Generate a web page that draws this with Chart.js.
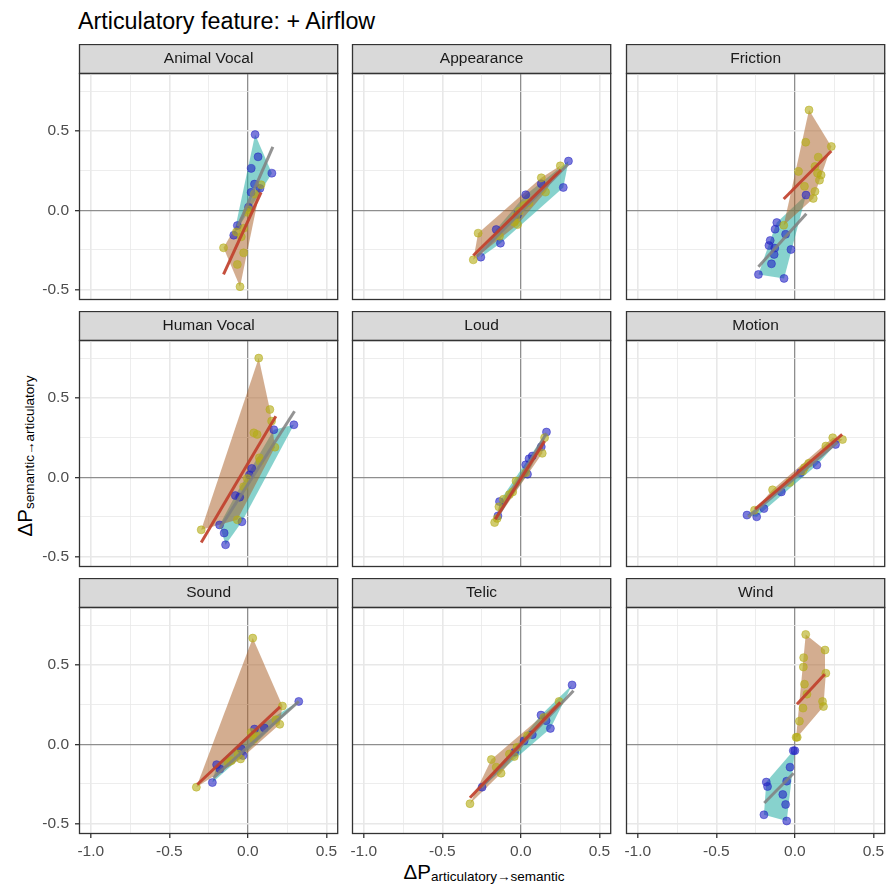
<!DOCTYPE html>
<html>
<head>
<meta charset="utf-8">
<script src="https://cdn.jsdelivr.net/npm/chart.js@4.4.1/dist/chart.umd.min.js"></script>
<style>
  body { margin: 0; background: #fff; font-family: 'Liberation Sans', Arial, Helvetica, sans-serif; }
  #wrap { position: relative; width: 888px; height: 886px; overflow: hidden; background: #fff; }
  #wrap canvas { position: absolute; }
  #title { position: absolute; left: 78px; top: 10px; font-size: 23.3px; line-height: 23px; color: #000; white-space: nowrap; }
  .axlab { position: absolute; width: 400px; height: 22px; line-height: 22px; text-align: center; white-space: nowrap; color: #000; font-size: 20.5px; }
  .axlab .sub { font-size: 13.5px; position: relative; top: 2px; }
  #xlab { left: 284px; top: 861px; }
  #ylab { left: -175px; top: 445px; transform: rotate(-90deg); }
</style>
</head>
<body>
<div id="wrap">
  <div id="title">Articulatory feature: + Airflow</div>
  <div id="xlab" class="axlab">ΔP<span class="sub">articulatory→semantic</span></div>
  <div id="ylab" class="axlab">ΔP<span class="sub">semantic→articulatory</span></div>
</div>
<script>
// facet names, in reading order
const facetNames = ['Animal Vocal', 'Appearance', 'Friction', 'Human Vocal', 'Loud', 'Motion', 'Sound', 'Telic', 'Wind'];

// axis ticks with a label (the others get a minor grid line only)
const xMajorTicks = [-1.0, -0.5, 0.0, 0.5];
const yMajorTicks = [-0.5, 0.0, 0.5];

// points [x, y] per facet: blue group and yellow group
// fitted lines as [x0, y0, x1, y1]
const animalVocalBlue = [[0.046, 0.477], [0.065, 0.337], [0.153, 0.234], [0.021, 0.264], [0.042, 0.165], [0.021, 0.113], [0.077, 0.138], [0.004, 0.02], [-0.067, -0.096], [-0.09, -0.157]];
const animalVocalYellow = [[-0.155, -0.236], [-0.05, -0.481], [-0.067, -0.341], [-0.027, -0.268], [-0.027, -0.113], [-0.073, -0.136], [-0.042, -0.167], [-0.004, -0.013], [0.004, 0.004], [0.042, 0.103], [0.084, 0.161]];
const animalVocalRed = [-0.155, -0.404, 0.084, 0.113];
const animalVocalGrey = [-0.063, -0.10, 0.159, 0.40];

const appearanceBlue = [[0.303, 0.310], [0.270, 0.144], [0.031, 0.098], [0.130, 0.167], [-0.021, -0.027], [-0.157, -0.121], [-0.130, -0.207], [-0.255, -0.295]];
const appearanceYellow = [[-0.303, -0.312], [-0.272, -0.144], [0.130, 0.205], [0.157, 0.115], [0.251, 0.280], [0.052, 0.046], [0.021, 0.031], [-0.010, -0.006], [-0.031, -0.038], [-0.042, -0.075], [-0.021, -0.09], [-0.136, -0.163]];
const appearanceRed = [-0.303, -0.285, 0.255, 0.255];
const appearanceGrey = [-0.28, -0.29, 0.30, 0.29];

const frictionBlue = [[0.071, 0.096], [-0.115, -0.077], [-0.126, -0.119], [-0.059, -0.151], [-0.157, -0.190], [-0.165, -0.222], [-0.128, -0.238], [-0.132, -0.278], [-0.025, -0.247], [-0.149, -0.337], [-0.232, -0.404], [-0.069, -0.429]];
const frictionYellow = [[0.090, 0.632], [0.069, 0.429], [0.232, 0.402], [0.149, 0.335], [0.128, 0.276], [0.023, 0.245], [0.144, 0.234], [0.167, 0.222], [0.157, 0.190], [0.061, 0.151], [0.128, 0.119], [0.117, 0.075], [-0.071, -0.094]];
const frictionRed = [-0.071, 0.071, 0.232, 0.374];
const frictionGrey = [-0.232, -0.356, 0.073, -0.021];

const humanVocalBlue = [[0.293, 0.331], [0.165, 0.30], [0.025, 0.056], [0.010, 0.015], [-0.080, -0.115], [-0.052, -0.125], [-0.038, -0.280], [-0.18, -0.30], [-0.151, -0.351], [-0.142, -0.425]];
const humanVocalYellow = [[0.069, 0.751], [0.140, 0.427], [0.151, 0.354], [0.038, 0.280], [0.059, 0.270], [0.172, 0.190], [0.073, 0.123], [0.077, 0.103], [-0.004, -0.008], [-0.027, -0.059], [-0.067, -0.268], [-0.297, -0.331]];
const humanVocalRed = [-0.297, -0.41, 0.178, 0.385];
const humanVocalGrey = [-0.178, -0.32, 0.297, 0.416];

const loudBlue = [[0.163, 0.285], [0.130, 0.192], [0.073, 0.134], [0.052, 0.117], [0.031, 0.079], [0.042, 0.019], [-0.136, -0.153], [-0.146, -0.243]];
const loudYellow = [[0.151, 0.249], [0.136, 0.151], [0.031, 0.029], [-0.031, -0.023], [-0.052, -0.092], [-0.073, -0.109], [-0.111, -0.138], [-0.140, -0.186], [-0.151, -0.259], [-0.167, -0.285]];
const loudRed = [-0.163, -0.264, 0.151, 0.228];
const loudGrey = [-0.146, -0.243, 0.163, 0.277];

const motionBlue = [[-0.305, -0.238], [-0.243, -0.249], [-0.197, -0.197], [-0.086, -0.092], [0.036, 0.029], [0.140, 0.077], [0.259, 0.207]];
const motionYellow = [[-0.257, -0.207], [-0.142, -0.079], [-0.033, -0.033], [0.05, 0.04], [0.061, 0.061], [0.088, 0.088], [0.197, 0.197], [0.241, 0.249], [0.303, 0.238]];
const motionRed = [-0.253, -0.201, 0.301, 0.27];
const motionGrey = [-0.297, -0.25, 0.27, 0.22];

const soundBlue = [[0.324, 0.270], [-0.226, -0.241], [-0.178, -0.155], [-0.199, -0.128], [-0.031, -0.071], [0.042, 0.096], [0.105, 0.103], [-0.042, -0.029]];
const soundYellow = [[0.031, 0.669], [-0.328, -0.270], [0.220, 0.241], [0.203, 0.126], [0.178, 0.155], [0.052, 0.054], [0.038, 0.033], [0.021, 0.075], [-0.063, -0.061], [-0.046, -0.092], [-0.105, -0.103], [-0.126, -0.113]];
const soundRed = [-0.322, -0.253, 0.205, 0.236];
const soundGrey = [-0.22, -0.211, 0.324, 0.270];

const telicBlue = [[0.326, 0.374], [0.128, 0.184], [0.161, 0.149], [0.188, 0.100], [0.073, 0.061], [0.021, 0.023], [-0.247, -0.270], [-0.04, -0.05]];
const telicYellow = [[-0.324, -0.374], [-0.188, -0.096], [-0.157, -0.144], [-0.126, -0.182], [-0.073, -0.061], [-0.025, -0.019], [0.042, 0.054], [0.146, 0.169], [0.243, 0.270], [-0.042, -0.077]];
const telicRed = [-0.324, -0.337, 0.251, 0.264];
const telicGrey = [-0.251, -0.270, 0.335, 0.337];

const windBlue = [[-0.010, -0.040], [0.0, -0.040], [-0.031, -0.144], [-0.052, -0.232], [-0.182, -0.238], [-0.174, -0.266], [-0.077, -0.316], [-0.059, -0.379], [-0.197, -0.444], [-0.052, -0.483]];
const windYellow = [[0.069, 0.692], [0.192, 0.594], [0.056, 0.546], [0.054, 0.487], [0.197, 0.448], [0.061, 0.379], [0.077, 0.316], [0.176, 0.270], [0.182, 0.238], [0.052, 0.228], [0.029, 0.146], [0.008, 0.044], [0.015, 0.044]];
const windRed = [0.013, 0.253, 0.190, 0.441];
const windGrey = [-0.195, -0.370, -0.008, -0.182];

const facets = [
  [animalVocalBlue, animalVocalYellow, animalVocalRed, animalVocalGrey],
  [appearanceBlue, appearanceYellow, appearanceRed, appearanceGrey],
  [frictionBlue, frictionYellow, frictionRed, frictionGrey],
  [humanVocalBlue, humanVocalYellow, humanVocalRed, humanVocalGrey],
  [loudBlue, loudYellow, loudRed, loudGrey],
  [motionBlue, motionYellow, motionRed, motionGrey],
  [soundBlue, soundYellow, soundRed, soundGrey],
  [telicBlue, telicYellow, telicRed, telicGrey],
  [windBlue, windYellow, windRed, windGrey],
];

Chart.defaults.font.family = "'Liberation Sans', Arial, Helvetica, sans-serif";

const BLUE = 'rgba(35, 35, 195, 0.6)';
const YELLOW = 'rgba(180, 172, 25, 0.62)';
const TEAL = 'rgba(37, 173, 164, 0.55)';
const BROWN = 'rgba(170, 97, 42, 0.52)';
const RED = 'rgba(192, 64, 44, 0.92)';
const GREY = 'rgba(128, 128, 128, 0.85)';

// panel geometry (px)
const colLefts = [79, 352, 626];
const rowTops = [44, 311, 578];
const AXW = 60, AXH = 32, STRIP = 29, PW = 262, PH = 227, PADR = 2;

function isIn(v, list) {
  return list.some(t => Math.abs(t - v) < 1e-6);
}

// convex hull (monotone chain), like stat_chull
function convexHull(points) {
  const pts = points.slice().sort((a, b) => a[0] - b[0] || a[1] - b[1]);
  const cross = (o, a, b) => (a[0] - o[0]) * (b[1] - o[1]) - (a[1] - o[1]) * (b[0] - o[0]);
  const lower = [];
  for (const p of pts) {
    while (lower.length >= 2 && cross(lower[lower.length - 2], lower[lower.length - 1], p) <= 0) lower.pop();
    lower.push(p);
  }
  const upper = [];
  for (let i = pts.length - 1; i >= 0; i--) {
    const p = pts[i];
    while (upper.length >= 2 && cross(upper[upper.length - 2], upper[upper.length - 1], p) <= 0) upper.pop();
    upper.push(p);
  }
  upper.pop();
  lower.pop();
  return lower.concat(upper);
}

const toXY = p => ({ x: p[0], y: p[1] });
const segXY = s => [{ x: s[0], y: s[1] }, { x: s[2], y: s[3] }];

// grey strip behind the facet title and dark frame round the panel
const stripAndFrame = {
  id: 'stripAndFrame',
  beforeDraw(chart) {
    const t = chart.titleBlock;
    if (!t) return;
    const ctx = chart.ctx;
    ctx.save();
    ctx.fillStyle = '#d9d9d9';
    ctx.fillRect(t.left, t.top, t.right - t.left, t.bottom - t.top);
    ctx.strokeStyle = '#333333';
    ctx.lineWidth = 1.3;
    ctx.strokeRect(t.left + 0.5, t.top + 0.5, t.right - t.left - 1, t.bottom - t.top);
    ctx.restore();
  },
  afterDraw(chart) {
    const a = chart.chartArea;
    const ctx = chart.ctx;
    ctx.save();
    ctx.strokeStyle = '#333333';
    ctx.lineWidth = 1.3;
    ctx.strokeRect(a.left + 0.5, a.top + 0.5, a.right - a.left - 1, a.bottom - a.top - 1);
    ctx.restore();
  }
};

function gridColor(c) {
  const v = c.tick ? c.tick.value : NaN;
  return Math.abs(v) < 1e-6 ? '#8e8e8e' : '#e8e8e8';
}

function makeScale(min, max, majors, showLabels, axis) {
  return {
    type: 'linear',
    min: min,
    max: max,
    afterFit: s => { if (axis === 'x') s.height = AXH; else s.width = AXW; },
    border: { display: false },
    grid: {
      color: gridColor,
      lineWidth: c => {
        const v = c.tick ? c.tick.value : 0;
        if (Math.abs(v) < 1e-6) return 1.3;
        return isIn(v, majors) ? 1.6 : 0.8;
      },
      drawTicks: showLabels,
      tickLength: 4,
      tickWidth: 1.3,
      tickColor: c => (c.tick && isIn(c.tick.value, majors)) ? '#333333' : 'rgba(0,0,0,0)'
    },
    ticks: {
      display: showLabels,
      stepSize: 0.25,
      includeBounds: false,
      autoSkip: false,
      maxRotation: 0,
      minRotation: 0,
      padding: axis === 'x' ? 4 : 6,
      color: '#4d4d4d',
      font: { size: 15.5 },
      callback: v => isIn(v, majors) ? (Math.round(v * 10) / 10).toFixed(1) : ''
    }
  };
}

const wrap = document.getElementById('wrap');

facets.forEach((f, i) => {
  const [blue, yellow, redLine, greyLine] = f;
  const col = i % 3;
  const row = Math.floor(i / 3);
  const cv = document.createElement('canvas');
  cv.width = AXW + PW + PADR;
  cv.height = STRIP + PH + AXH;
  cv.style.left = (colLefts[col] - AXW) + 'px';
  cv.style.top = rowTops[row] + 'px';
  wrap.appendChild(cv);

  new Chart(cv, {
    type: 'scatter',
    data: {
      datasets: [
        { type: 'line', data: convexHull(blue).map(toXY), fill: 'shape', backgroundColor: TEAL,
          borderColor: 'rgba(0,0,0,0)', borderWidth: 0, pointRadius: 0, tension: 0, order: 6 },
        { type: 'line', data: convexHull(yellow).map(toXY), fill: 'shape', backgroundColor: BROWN,
          borderColor: 'rgba(0,0,0,0)', borderWidth: 0, pointRadius: 0, tension: 0, order: 5 },
        { data: blue.map(toXY), backgroundColor: BLUE, borderColor: BLUE, borderWidth: 0.8, pointRadius: 4, order: 4 },
        { data: yellow.map(toXY), backgroundColor: YELLOW, borderColor: YELLOW, borderWidth: 0.8, pointRadius: 4, order: 3 },
        { type: 'line', data: segXY(greyLine), borderColor: GREY, borderWidth: 3, pointRadius: 0, fill: false, order: 2 },
        { type: 'line', data: segXY(redLine), borderColor: RED, borderWidth: 3, pointRadius: 0, fill: false, order: 1 }
      ]
    },
    options: {
      responsive: false,
      animation: false,
      events: [],
      layout: { padding: { top: 0, left: 0, right: PADR, bottom: 0 } },
      scales: {
        x: makeScale(-1.075, 0.575, xMajorTicks, row === 2, 'x'),
        y: makeScale(-0.565, 0.865, yMajorTicks, col === 0, 'y')
      },
      plugins: {
        legend: { display: false },
        tooltip: { enabled: false },
        title: {
          display: true,
          text: facetNames[i],
          fullSize: false,
          color: '#1a1a1a',
          font: { size: 15.5, weight: 'normal', lineHeight: '17px' },
          padding: { top: 6, bottom: 6 }
        }
      }
    },
    plugins: [stripAndFrame]
  });
});
</script>
</body>
</html>
